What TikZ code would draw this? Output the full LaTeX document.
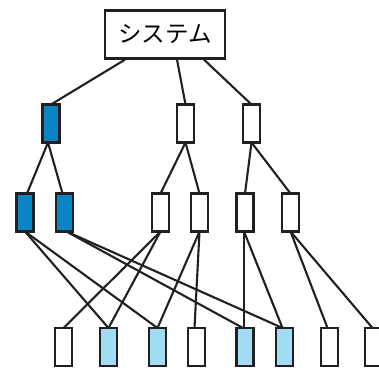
\documentclass[tikz,border=0pt]{standalone}
\usepackage{fontspec}
\newfontfamily\cjk{Noto Sans CJK JP}
\definecolor{darkb}{HTML}{0A84C4}
\definecolor{lightb}{HTML}{A2DCF4}
\definecolor{ink}{HTML}{231F20}
\begin{document}
\begin{tikzpicture}[x=1pt,y=-1pt,
  box/.style={draw=ink,line width=2.3pt,fill=white,minimum width=17pt,minimum height=38pt,inner sep=0pt,outer sep=0pt},
  dk/.style={box,fill=darkb},
  lt/.style={box,fill=lightb},
  link/.style={draw=ink,line width=2.1pt}]
\useasboundingbox (0,0) rectangle (379,367);
% top
\node[draw=ink,line width=2.3pt,fill=white,minimum width=120pt,minimum height=48pt,inner sep=0pt,font=\cjk\fontsize{23.5}{26}\selectfont] (t) at (165,34.5) {システム};
% level 1
\node[dk] (a1) at (51,123.5) {};
\node[box] (a2) at (185.5,123.5) {};
\node[box] (a3) at (251.5,123.5) {};
% level 2
\node[dk] (b1) at (25,212.5) {};
\node[dk] (b2) at (64.5,212.5) {};
\node[box] (b3) at (160.5,212.5) {};
\node[box] (b4) at (199.5,212.5) {};
\node[box] (b5) at (245,212.5) {};
\node[box] (b6) at (290.5,212.5) {};
% level 3
\node[box] (c1) at (63.5,347) {};
\node[lt] (c2) at (108.5,347) {};
\node[lt] (c3) at (157.5,347) {};
\node[box] (c4) at (196.5,347) {};
\node[lt] (c5) at (245,347) {};
\node[lt] (c6) at (284.5,347) {};
\node[box] (c7) at (329.5,347) {};
\node[box] (c8) at (373.5,347) {};
% links
\begin{scope}[link]
\draw ([xshift=-40pt]t.south) -- (a1.north);
\draw ([xshift=12pt]t.south) -- (a2.north);
\draw ([xshift=39pt]t.south) -- (a3.north);
\draw ([xshift=-3pt]a1.south) -- ([xshift=2pt]b1.north);
\draw ([xshift=-3pt]a1.south) -- ([xshift=-2pt]b2.north);
\draw (a2.south) -- (b3.north);
\draw (a2.south) -- (b4.north);
\draw (a3.south) -- (b5.north);
\draw (a3.south) -- (b6.north);
\draw (b1.south) -- (c2.north);
\draw (b1.south) -- (c3.north);
\draw ([xshift=2pt]b2.south) -- ([xshift=-2pt]c5.north);
\draw ([xshift=2pt]b2.south) -- ([xshift=-2pt]c6.north);
\draw (b3.south) -- (c1.north);
\draw (b3.south) -- (c2.north);
\draw (b4.south) -- (c3.north);
\draw (b4.south) -- ([xshift=-2pt]c4.north);
\draw ([xshift=-1pt]b5.south) -- ([xshift=-1pt]c5.north);
\draw ([xshift=-1pt]b5.south) -- ([xshift=-2pt]c6.north);
\draw (b6.south) -- ([xshift=-2pt]c7.north);
\draw (b6.south) -- ([xshift=-1pt]c8.north);
\end{scope}
\end{tikzpicture}
\end{document}
